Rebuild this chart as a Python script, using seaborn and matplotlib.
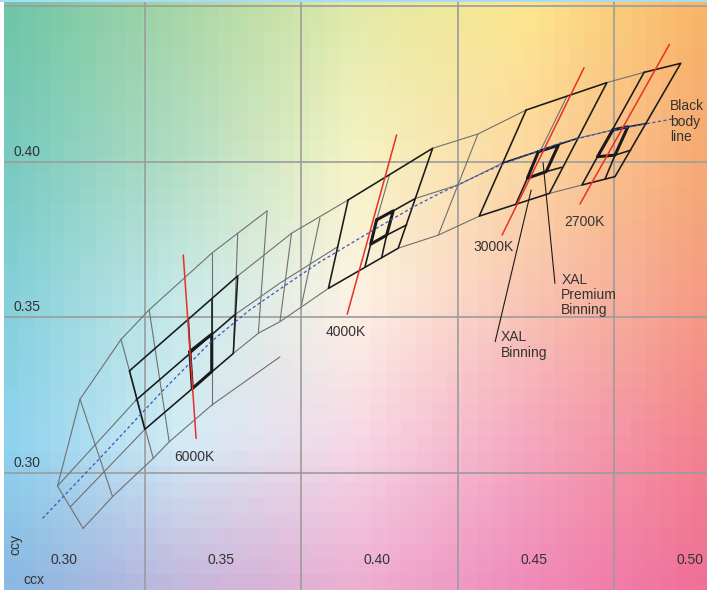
import numpy as np
import pandas as pd
import seaborn as sns
import matplotlib
matplotlib.use("Agg")
import matplotlib.pyplot as plt
import matplotlib.colors as mcolors
from matplotlib.patches import Rectangle
from matplotlib.transforms import ScaledTranslation

# ======| data (ccx, ccy) |======

x_ticks = [0.30, 0.35, 0.40, 0.45, 0.50]
y_ticks = [0.30, 0.35, 0.40]
x_grid = [0.3257, 0.3757, 0.4257, 0.4757]
y_grid = [0.30, 0.35, 0.40, 0.45]

# thin grey quadrangle grid along the locus
ansi_lines = [
    [(0.2978, 0.2958), (0.3050, 0.3237), (0.3181, 0.3429), (0.3271, 0.3524),
     (0.3471, 0.3706), (0.3554, 0.3770), (0.3648, 0.3842)],
    [(0.3060, 0.2822), (0.3154, 0.2924), (0.3284, 0.3047), (0.3335, 0.3100),
     (0.3471, 0.3218), (0.3689, 0.3373)],
    [(0.2978, 0.2958), (0.3060, 0.2822)],
    [(0.3050, 0.3237), (0.3154, 0.2924)],
    [(0.3181, 0.3429), (0.3284, 0.3047)],
    [(0.3271, 0.3524), (0.3335, 0.3100)],
    [(0.3471, 0.3706), (0.3471, 0.3218)],
    [(0.3554, 0.3770), (0.3540, 0.3384)],
    [(0.3648, 0.3842), (0.3620, 0.3449)],
    [(0.3726, 0.3770), (0.3689, 0.3486)],
    [(0.3817, 0.3819), (0.3758, 0.3540)],
    [(0.2978, 0.2958), (0.3229, 0.3234)],
    [(0.3543, 0.3507), (0.3689, 0.3610), (0.3874, 0.3727)],
    [(0.3019, 0.2891), (0.3257, 0.3140)],
    [(0.3540, 0.3384), (0.3620, 0.3449), (0.3689, 0.3486), (0.3844, 0.3593)],
    [(0.3554, 0.3633), (0.3726, 0.3770), (0.3907, 0.3877)],
    [(0.4039, 0.3957), (0.3998, 0.3813)],
    [(0.4177, 0.4043), (0.4322, 0.4089), (0.4476, 0.4166)],
    [(0.4067, 0.3722), (0.4195, 0.3764), (0.4326, 0.3825)],
    [(0.4322, 0.4089), (0.4195, 0.3764)],
    [(0.4122, 0.3882), (0.4258, 0.3925), (0.4401, 0.3996)],
    [(0.4734, 0.4254), (0.4853, 0.4287)],
    [(0.4550, 0.3898), (0.4654, 0.3925)],
    [(0.4640, 0.4075), (0.4753, 0.4102)],
    [(0.4606, 0.4209), (0.4520, 0.4032)],
]

# XAL binning quadrangles and their inner lines
xal_lines = [
    # 6000K
    [(0.3208, 0.3328), (0.3554, 0.3633), (0.3540, 0.3384), (0.3257, 0.3140), (0.3208, 0.3328)],
    [(0.3229, 0.3234), (0.3543, 0.3507)],
    [(0.3396, 0.3495), (0.3409, 0.3271)],
    [(0.3471, 0.3559), (0.3471, 0.3325)],
    # 4000K
    [(0.3907, 0.3877), (0.4177, 0.4043), (0.4067, 0.3722), (0.3844, 0.3593), (0.3907, 0.3877)],
    [(0.4051, 0.3842), (0.4122, 0.3882)],
    [(0.4030, 0.3764), (0.4094, 0.3797)],
    [(0.3979, 0.3735), (0.3961, 0.3663)],
    [(0.4030, 0.3764), (0.4014, 0.3691)],
    # 3000K
    [(0.4476, 0.4166), (0.4734, 0.4254), (0.4550, 0.3898), (0.4326, 0.3825), (0.4476, 0.4166)],
    [(0.4401, 0.3996), (0.4640, 0.4075)],
    [(0.4480, 0.3947), (0.4444, 0.3866)],
    [(0.4540, 0.3968), (0.4590, 0.3982)],
    # 2700K
    [(0.4853, 0.4287), (0.4970, 0.4316), (0.4760, 0.3952), (0.4654, 0.3925), (0.4853, 0.4287)],
    [(0.4801, 0.4112), (0.4862, 0.4123)],
    [(0.4760, 0.4021), (0.4810, 0.4037)],
    [(0.4760, 0.4021), (0.4728, 0.3944)],
]

# XAL premium bins (thick)
premium_bins = [
    [(0.3401, 0.3390), (0.3471, 0.3446), (0.3471, 0.3326), (0.3409, 0.3271), (0.3401, 0.3390)],
    [(0.3998, 0.3813), (0.4051, 0.3842), (0.4030, 0.3764), (0.3979, 0.3735), (0.3998, 0.3813)],
    [(0.4515, 0.4032), (0.4579, 0.4053), (0.4540, 0.3968), (0.4480, 0.3947), (0.4515, 0.4032)],
    [(0.4753, 0.4102), (0.4801, 0.4112), (0.4760, 0.4021), (0.4704, 0.4016), (0.4753, 0.4102)],
]

# isotherms of the nominal CCTs
cct_names = ["6000K", "4000K", "3000K", "2700K"]
cct_lines = [
    [(0.3380, 0.3700), (0.3421, 0.3111)],
    [(0.4062, 0.4086), (0.3904, 0.3510)],
    [(0.4661, 0.4302), (0.4399, 0.3764)],
    [(0.4934, 0.4377), (0.4648, 0.3864)],
]
cct_label_pos = [(0.3417, 0.3051), (0.3899, 0.3453), (0.4373, 0.3727), (0.4663, 0.3805)]

# black body locus
locus_x = [0.2930, 0.3114, 0.3316, 0.3468, 0.3593, 0.3689, 0.3817, 0.3977,
           0.4114, 0.4201, 0.4393, 0.4584, 0.4754, 0.4942]
locus_y = [0.2854, 0.3048, 0.3266, 0.3421, 0.3524, 0.3591, 0.3678, 0.3774,
           0.3854, 0.3899, 0.3989, 0.4060, 0.4102, 0.4137]

# annotation leaders
leader_lines = [
    [(0.4377, 0.3422), (0.4492, 0.3909)],
    [(0.4568, 0.3609), (0.4530, 0.3997)],
]

# background colour field (rows top -> bottom, columns left -> right)
bg_rows = [
    ["#70c6a7", "#a8d7a8", "#e2eaa9", "#fde68e", "#f9b56a"],
    ["#78cbbe", "#b4ddc2", "#f5f4c3", "#fdd8a0", "#f7ab74"],
    ["#85d0da", "#c9eae8", "#fdf3e4", "#f9c6b4", "#f59c84"],
    ["#8fd3ee", "#d4ecf6", "#f7d8e6", "#f5a8c0", "#f3848e"],
    ["#8ab9e3", "#c5b8dd", "#eeb0d3", "#f08cba", "#f07098"],
]

xlim = (0.2807, 0.5054)
ylim = (0.2624, 0.4513)


def to_frame(lines):
    rows = []
    for i, line in enumerate(lines):
        for x, y in line:
            rows.append({"seg": i, "ccx": x, "ccy": y})
    return pd.DataFrame(rows)


def draw(lines, ax, **kw):
    sns.lineplot(data=to_frame(lines), x="ccx", y="ccy", units="seg",
                 estimator=None, sort=False, ax=ax, legend=False, **kw)


sns.set_theme(style="white")
plt.rcParams["font.family"] = ["Liberation Sans", "DejaVu Sans"]
text_color = "#333333"

fig = plt.figure(figsize=(7.07, 5.90), dpi=100)
ax = fig.add_axes([4 / 707, 0, 703 / 707, 588 / 590])

# pixelated colour background
anchors = np.array([[mcolors.to_rgb(c) for c in row] for row in bg_rows])
ny, nx = 38, 46
gx = np.linspace(0, 4, nx)
gy = np.linspace(0, 4, ny)
tmp = np.stack([np.stack([np.interp(gx, np.arange(5), anchors[r, :, k]) for k in range(3)], -1)
                for r in range(5)])
img = np.stack([np.stack([np.interp(gy, np.arange(5), tmp[:, c, k]) for k in range(3)], -1)
                for c in range(nx)], 1)
ax.imshow(img, extent=(xlim[0], xlim[1], ylim[0], ylim[1]), origin="upper",
          aspect="auto", interpolation="nearest", zorder=0)

ax.set_xlim(*xlim)
ax.set_ylim(*ylim)

# grid
for gxv in x_grid:
    ax.axvline(gxv, color="#9c9c9c", lw=1.2, zorder=1)
for gyv in y_grid:
    ax.axhline(gyv, color="#9c9c9c", lw=1.2, zorder=1)

draw(ansi_lines, ax, color="#707070", lw=0.8, zorder=2)
draw(xal_lines, ax, color="#1a1a1a", lw=1.15, zorder=3)
draw(premium_bins, ax, color="#1a1a1a", lw=2.2, zorder=4)
draw(cct_lines, ax, color="#e8302a", lw=1.1, zorder=5)
sns.lineplot(x=locus_x, y=locus_y, sort=False, ax=ax, color="#3a55c0",
             lw=0.9, dashes=False, zorder=6, linestyle=(0, (2.5, 2)))
draw(leader_lines, ax, color="#1a1a1a", lw=0.8, zorder=6)

for name, (lx, ly) in zip(cct_names, cct_label_pos):
    ax.text(lx, ly, name, ha="center", va="center", fontsize=10, color=text_color, zorder=7)

ax.text(0.4936, 0.4129, "Black\nbody\nline", ha="left", va="center", fontsize=10,
        color=text_color, linespacing=1.1, zorder=7)
ax.text(0.4588, 0.3572, "XAL\nPremium\nBinning", ha="left", va="center", fontsize=10,
        color=text_color, linespacing=1.1, zorder=7)
ax.text(0.4395, 0.3411, "XAL\nBinning", ha="left", va="center", fontsize=10,
        color=text_color, linespacing=1.1, zorder=7)
ax.text(0.2842, 0.2769, "ccy", rotation=90, ha="center", va="center", fontsize=10,
        color=text_color, zorder=7)
ax.text(0.2903, 0.2656, "ccx", ha="center", va="center", fontsize=10,
        color=text_color, zorder=7)

# tick labels inside the plot
ax.set_xticks(x_ticks)
ax.set_xticklabels([f"{v:.2f}" for v in x_ticks])
ax.set_yticks(y_ticks)
ax.set_yticklabels([f"{v:.2f}" for v in y_ticks])
ax.tick_params(axis="x", length=0, pad=-27, labelsize=10, labelcolor=text_color)
ax.tick_params(axis="y", length=0, pad=-7, labelsize=10, labelcolor=text_color)
for lab in ax.get_yticklabels():
    lab.set_horizontalalignment("left")
    lab.set_verticalalignment("bottom")
    lab.set_transform(lab.get_transform() + ScaledTranslation(0, 3 / 100, fig.dpi_scale_trans))
for lab in ax.get_xticklabels():
    lab.set_zorder(7)
ax.set_xlabel("")
ax.set_ylabel("")
for s in ax.spines.values():
    s.set_visible(False)

fig.add_artist(Rectangle((0, 1 - 2 / 590), 1, 2 / 590, transform=fig.transFigure,
                         color="#a9dcf3", lw=0))

fig.savefig("out.png", dpi=100)
